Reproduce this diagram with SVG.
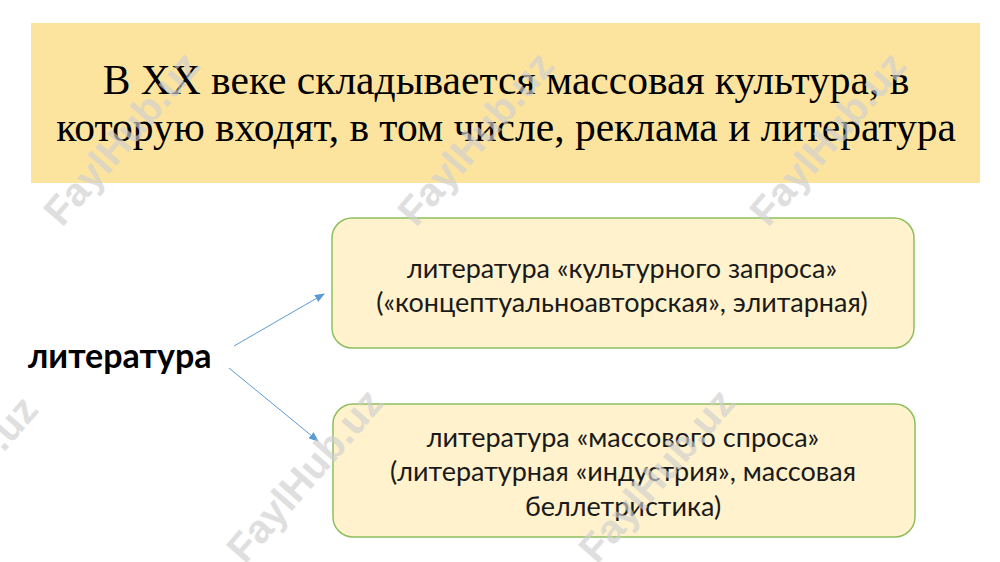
<svg xmlns="http://www.w3.org/2000/svg" width="1000" height="562" viewBox="0 0 1000 562">
<style>
.title{font-family:"Liberation Serif",serif;font-size:41.5px;fill:#000;text-anchor:middle}
.box{fill:#FFF2CC;stroke:#8FBF5F;stroke-width:1.5}
.bt{font-family:Lato,"Open Sans",sans-serif;font-size:27px;fill:#1a1a1a;text-anchor:middle}
.wm{font-family:"Liberation Sans",sans-serif;font-weight:bold;font-size:40px;fill:#cfcfcf;opacity:0.65}
.conn{stroke:#5B9BD5;stroke-width:1;fill:none;marker-end:url(#ah)}
</style>
<defs>
<marker id="ah" markerWidth="10" markerHeight="8" refX="9" refY="4" orient="auto" markerUnits="userSpaceOnUse">
<path d="M0,0 L10,4 L0,8 z" fill="#5B9BD5"/>
</marker>
</defs>
<rect width="1000" height="562" fill="#fff"/>
<g id="title">
<rect x="31" y="23" width="949" height="160" fill="#FCE49F"/>
<text class="title" x="506" y="94">В XX веке складывается массовая культура, в</text>
<text class="title" x="506" y="141">которую входят, в том числе, реклама и литература</text>
</g>
<g id="literatura">
<text x="28" y="368" font-family="Lato,'Open Sans',sans-serif" font-weight="bold" font-size="34" fill="#000">литература</text>
</g>
<g id="box1">
<rect class="box" x="332" y="218" width="582" height="130" rx="20"/>
<text class="bt" x="622" y="278">литература «культурного запроса»</text>
<text class="bt" x="622" y="312">(«концептуальноавторская», элитарная)</text>
</g>
<g id="box2">
<rect class="box" x="333" y="404" width="582" height="133" rx="20"/>
<text class="bt" x="623" y="447">литература «массового спроса»</text>
<text class="bt" x="623" y="481">(литературная «индустрия», массовая</text>
<text class="bt" x="623" y="516">беллетристика)</text>
</g>
<g id="connectors">
<line class="conn" x1="234" y1="346" x2="324" y2="294"/>
<line class="conn" x1="229" y1="368" x2="318" y2="441"/>
</g>
<g id="watermarks">
<text class="wm" transform="translate(62,228) rotate(-49)">FaylHub.uz</text>
<text class="wm" transform="translate(416,228) rotate(-49)">FaylHub.uz</text>
<text class="wm" transform="translate(768,228) rotate(-49)">FaylHub.uz</text>
<text class="wm" transform="translate(-100,572) rotate(-49)">FaylHub.uz</text>
<text class="wm" transform="translate(245,565) rotate(-49)">FaylHub.uz</text>
<text class="wm" transform="translate(597,565) rotate(-49)">FaylHub.uz</text>
</g>
</svg>
